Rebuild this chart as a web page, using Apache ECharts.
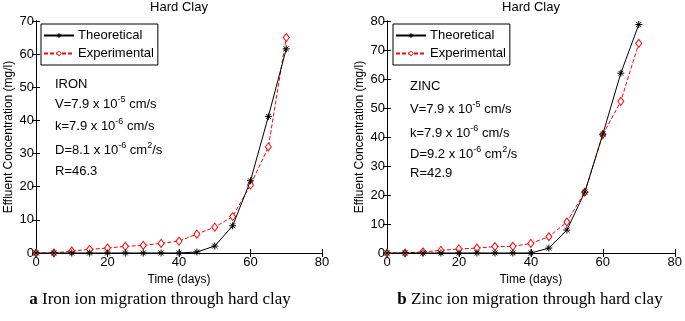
<!DOCTYPE html>
<html>
<head>
<meta charset="utf-8">
<script src="https://cdn.jsdelivr.net/npm/echarts@6/dist/echarts.min.js"></script>
<style>
  html, body { margin: 0; padding: 0; background: #fff; }
  #chart { width: 685px; height: 321px; }
</style>
</head>
<body>
<div id="chart"></div>
<script>
// time (days)
const days = [0, 5, 10, 15, 20, 25, 30, 35, 40, 45, 50, 55, 60, 65, 70];
// iron (panel a)
const ironTheo = [0, 0, 0, 0, 0, 0, 0, 0, 0, 0.3, 2.1, 8.2, 21.8, 41.2, 61.6];
const ironExp = [0, 0, 0.6, 1.1, 1.5, 2.0, 2.3, 2.9, 3.6, 5.7, 7.8, 11, 20.5, 32, 65];
// zinc (panel b)
const zincTheo = [0, 0, 0, 0, 0, 0, 0, 0, 0, 1.7, 7.9, 21, 41, 62, 78.8];
const zincExp = [0, 0, 0.4, 0.9, 1.4, 1.7, 2.2, 2.3, 3.3, 5.6, 10.7, 21, 40.8, 52.3, 72.3];

const FONT = 'Liberation Sans';
const star = 'path://M5,0L5,10M0,5L10,5M1.5,1.5L8.5,8.5M1.5,8.5L8.5,1.5';

function pairs(ys) {
    return days.map((d, i) => [d, ys[i]]);
}

function mainX(grid, name) {
    return {
        type: 'value', gridIndex: grid, min: 0, max: 80, interval: 20,
        name: name, nameLocation: 'middle', nameGap: 15,
        nameTextStyle: { fontFamily: FONT, fontSize: 12, color: '#000' },
        axisLine: { lineStyle: { color: '#000', width: 1 } },
        axisTick: { inside: true, length: 4, lineStyle: { color: '#000' } },
        axisLabel: { fontFamily: FONT, fontSize: 13, color: '#000', margin: 3 },
        splitLine: { show: false }
    };
}
function mirrorX(grid) {
    return {
        type: 'value', gridIndex: grid, min: 0, max: 80, interval: 20, position: 'top',
        axisLine: { lineStyle: { color: '#000', width: 1 } },
        axisTick: { inside: true, length: 4, lineStyle: { color: '#000' } },
        axisLabel: { show: false }, splitLine: { show: false }
    };
}
function mainY(grid, max, interval) {
    return {
        type: 'value', gridIndex: grid, min: 0, max: max, interval: interval,
        name: 'Effluent Concentration (mg/l)', nameLocation: 'middle', nameGap: 21,
        nameTextStyle: { fontFamily: FONT, fontSize: 12, color: '#000' },
        axisLine: { show: true, lineStyle: { color: '#000', width: 1 } },
        axisTick: { show: true, inside: true, length: 4, lineStyle: { color: '#000' } },
        axisLabel: { fontFamily: FONT, fontSize: 13, color: '#000', margin: 2 },
        splitLine: { show: false }
    };
}
function mirrorY(grid, max, interval) {
    return {
        type: 'value', gridIndex: grid, min: 0, max: max, interval: interval, position: 'right',
        axisLine: { show: true, lineStyle: { color: '#000', width: 1 } },
        axisTick: { show: true, inside: true, length: 4, lineStyle: { color: '#000' } },
        axisLabel: { show: false }, splitLine: { show: false }
    };
}

function theoSeries(axis, ys) {
    return {
        name: 'Theoretical', type: 'line', xAxisIndex: axis, yAxisIndex: axis,
        data: pairs(ys), symbol: star, symbolSize: 7, showAllSymbol: true,
        lineStyle: { color: '#000', width: 1 },
        itemStyle: { color: '#000', borderColor: '#000', borderWidth: 1 },
        animation: false, z: 3
    };
}
function expSeries(axis, ys) {
    return {
        name: 'Experimental', type: 'line', xAxisIndex: axis, yAxisIndex: axis,
        data: pairs(ys), symbol: 'diamond', symbolSize: [6, 8], showAllSymbol: true,
        lineStyle: { color: '#f00', width: 1, type: [4, 2] },
        itemStyle: { color: '#fff', borderColor: '#f00', borderWidth: 1 },
        animation: false, z: 2
    };
}

function legendAt(left) {
    return {
        left: left, top: 24, orient: 'vertical', itemGap: 5, itemWidth: 30, itemHeight: 6,
        padding: [5, 4, 5, 2], borderColor: '#000', borderWidth: 1, backgroundColor: '#fff',
        textStyle: { fontFamily: FONT, fontSize: 13, color: '#000', padding: [0, 0, 0, -1] },
        data: [
            { name: 'Theoretical', itemStyle: { color: '#000', borderColor: '#000', borderWidth: 1 } },
            { name: 'Experimental', itemStyle: { color: '#fff', borderColor: '#f00', borderWidth: 1 } }
        ]
    };
}

const rich = {
    n: { fontFamily: FONT, fontSize: 13, lineHeight: 16 },
    s: { fontFamily: FONT, fontSize: 9, lineHeight: 16, padding: [0, 0, 8, 0] }
};
function note(x, y, text) {
    return { type: 'text', x: x, y: y,
        style: { text: text, fontFamily: FONT, fontSize: 13, fill: '#000', rich: rich } };
}

const chart = echarts.init(document.getElementById('chart'));
chart.setOption({
    backgroundColor: '#fff',
    animation: false,
    grid: [
        { left: 36, top: 21, width: 286, height: 232 },
        { left: 387, top: 21, width: 288, height: 232 }
    ],
    xAxis: [mainX(0, 'Time (days)'), mainX(1, 'Time (days)'), mirrorX(0), mirrorX(1)],
    yAxis: [mainY(0, 70, 10), mainY(1, 80, 10), mirrorY(0, 70, 10), mirrorY(1, 80, 10)],
    legend: [legendAt(41), legendAt(393)],
    series: [
        theoSeries(0, ironTheo), expSeries(0, ironExp),
        theoSeries(1, zincTheo), expSeries(1, zincExp)
    ],
    graphic: [
        { type: 'text', x: 179, y: 1, style: { text: 'Hard Clay', fontFamily: FONT, fontSize: 13, fill: '#000', textAlign: 'center' } },
        { type: 'text', x: 531, y: 1, style: { text: 'Hard Clay', fontFamily: FONT, fontSize: 13, fill: '#000', textAlign: 'center' } },
        note(55, 76, '{n|IRON}'),
        note(55, 96, '{n|V=7.9 x 10}{s|-5}{n| cm/s}'),
        note(55, 118, '{n|k=7.9 x 10}{s|-6}{n| cm/s}'),
        note(55, 142, '{n|D=8.1 x 10}{s|-6}{n| cm}{s|2}{n|/s}'),
        note(55, 163, '{n|R=46.3}'),
        note(410, 78, '{n|ZINC}'),
        note(410, 101, '{n|V=7.9 x 10}{s|-5}{n| cm/s}'),
        note(410, 125, '{n|k=7.9 x 10}{s|-6}{n| cm/s}'),
        note(410, 146, '{n|D=9.2 x 10}{s|-6}{n| cm}{s|2}{n|/s}'),
        note(410, 165, '{n|R=42.9}'),
        { type: 'text', x: 160, y: 291, style: { text: '{b|a} Iron ion migration through hard clay', textAlign: 'center',
            fontFamily: 'Liberation Serif', fontSize: 17, fill: '#000',
            rich: { b: { fontFamily: 'Liberation Serif', fontSize: 17, fontWeight: 'bold' } } } },
        { type: 'text', x: 530, y: 291, style: { text: '{b|b} Zinc ion migration through hard clay', textAlign: 'center',
            fontFamily: 'Liberation Serif', fontSize: 17, fill: '#000',
            rich: { b: { fontFamily: 'Liberation Serif', fontSize: 17, fontWeight: 'bold' } } } }
    ]
});
</script>
</body>
</html>
